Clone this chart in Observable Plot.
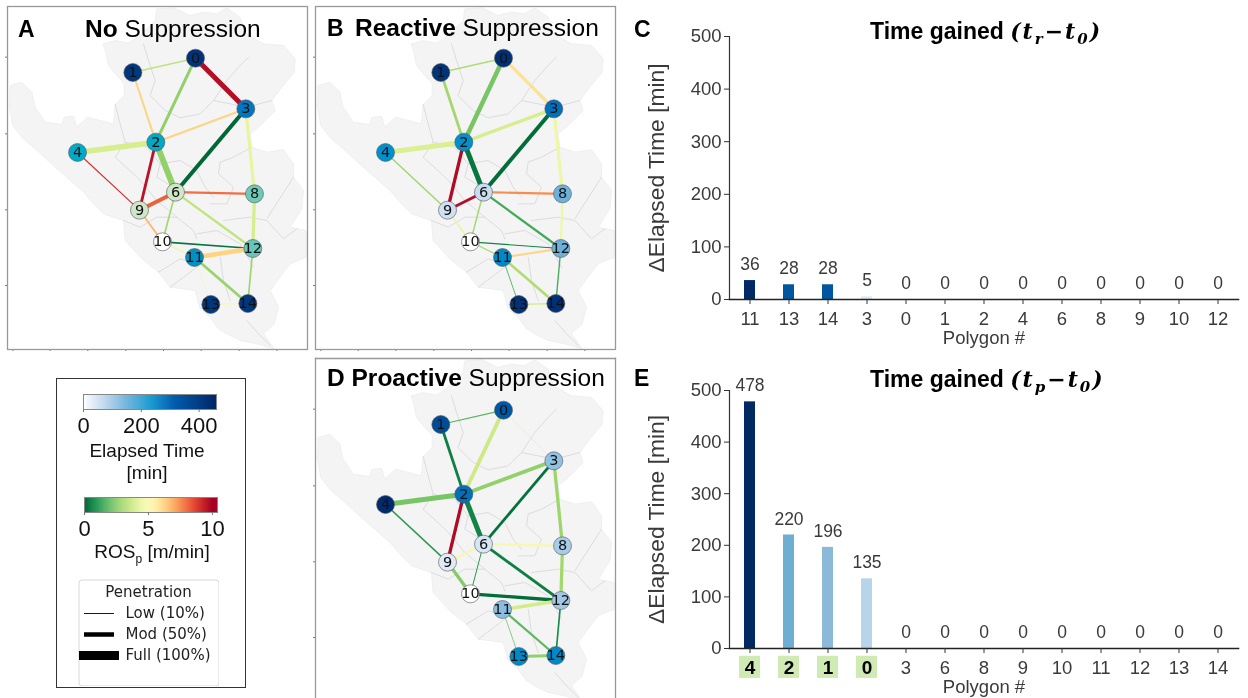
<!DOCTYPE html>
<html><head><meta charset="utf-8">
<script src="https://cdn.jsdelivr.net/npm/d3@7"></script>
<script src="https://cdn.jsdelivr.net/npm/@observablehq/plot@0.6"></script>
<style>
html,body{margin:0;padding:0;background:#fff;}
#page{position:relative;width:1248px;height:698px;overflow:hidden;font-family:"Liberation Sans",Arial,sans-serif;color:#000;filter:blur(0.35px);}
#page>svg,#page>div{position:absolute;}
.ttl{font-size:24.5px;line-height:28px;white-space:nowrap;}
.let{font-size:23px;font-weight:bold;line-height:28px;}
.gain{font-size:23px;font-weight:bold;line-height:28px;white-space:nowrap;}
.gain span{font-family:"DejaVu Serif","Liberation Serif",serif;font-style:italic;font-size:22px;letter-spacing:2px;}
.gain sub{font-size:15px;line-height:0;}
.lg{font-size:19px;line-height:22px;text-align:center;white-space:nowrap;color:#111;}
.lg sub{font-size:12px;line-height:0;}
</style></head><body><div id="page"></div>
<script>
const nodeIds=[0,1,2,3,4,6,8,9,10,11,12,13,14];
const nodeX=[586,398,467,737,232,526,763,418,487,583,758,632,743];
const nodeY=[173,216,425,325,456,575,580,629,724,771,744,912,909];

const edgeFrom=[0,0,0,1,2,2,2,2,3,3,4,6,6,6,6,8,9,10,10,11,11,11,12,13];
const edgeTo=[1,2,3,2,3,4,6,9,6,8,9,8,9,10,12,12,10,11,12,12,13,14,14,14];

const rosA=[3.5,2.7,9.7,6.2,6.2,4.0,2.7,9.6,0.0,4.4,9.0,8.0,8.2,3.0,3.5,4.0,6.8,4.5,0.3,6.2,4.7,2.8,2.9,5.0];
const penA=[15,30,50,20,22,55,60,28,40,33,12,22,40,17,22,33,18,12,17,45,5,28,17,12];
const rosB=[3.2,2.3,5.9,3.0,4.0,4.1,0.3,9.8,0.1,4.6,2.9,7.5,9.7,3.0,1.5,4.6,4.4,3.0,0.6,6.2,1.7,3.2,1.6,4.0];
const penB=[15,45,33,28,33,50,50,33,40,33,14,22,28,15,22,22,15,12,11,20,9,26,14,17];
const rosD=[1.8,3.8,4.3,0.5,2.7,2.3,0.6,9.8,0.2,2.9,1.1,4.9,4.9,1.1,0.5,3.0,2.5,null,0.1,3.9,1.9,1.9,0.8,2.7];
const penD=[12,38,6,28,38,50,50,33,28,33,15,22,22,10,28,33,33,0,33,33,7,22,17,28];

const elapsedA=[430,420,190,270,190,60,130,60,0,230,135,420,420];
const elapsedB=[430,425,235,280,235,60,140,55,0,245,140,425,430];
const elapsedD=[330,360,280,110,445,45,90,35,0,115,95,245,245];

const elapsedStopsA=[0,60,130,190,270,450];
const elapsedColorsA=["#ffffff","#cfe6c8","#6fc9b6","#00a9c6","#0078c0","#002a70"];
const elapsedStops=[0,60,140,235,300,450];
const elapsedColors=["#ffffff","#c9ddf0","#6db0da","#0090cc","#0062b4","#002a6c"];

const ordC=["11","13","14","3","0","1","2","4","6","8","9","10","12"];
const gainC=[36,28,28,5,0,0,0,0,0,0,0,0,0];
const colC=["#002a66","#00569f","#00569f","#dfeaf5","#fff","#fff","#fff","#fff","#fff","#fff","#fff","#fff","#fff"];
const ordE=["4","2","1","0","3","6","8","9","10","11","12","13","14"];
const gainE=[478,220,196,135,0,0,0,0,0,0,0,0,0];
const colE=["#002a60","#6eaed2","#8cb9d8","#b8d4e8","#fff","#fff","#fff","#fff","#fff","#fff","#fff","#fff","#fff"];
const treatedE=["4","2","1","0"];
const yTicks=[0,100,200,300,400,500];

const penLevels=[10,50,100];
const penRows=["Penetration","Low (10%)","Mod (50%)","Full (100%)"];

const frameTicksX=[38,150,263,377,490,603,717,830];
const frameTicksY=[170,400,628,855];

const regionOutline=[[310,130],[345,120],[385,128],[425,100],[465,60],[470,25],[520,22],[570,45],[610,35],[650,40],[680,22],[720,50],[735,100],[790,130],[850,135],[885,175],[882,215],[845,260],[815,300],[825,330],[780,375],[750,400],[755,440],[800,455],[850,448],[880,490],[880,530],[910,570],[905,625],[870,680],[918,690],[918,770],[870,790],[850,815],[810,870],[835,920],[822,970],[790,1000],[822,1045],[770,1030],[720,1020],[680,1000],[655,985],[630,950],[600,925],[585,870],[510,860],[475,815],[425,775],[375,720],[370,660],[310,640],[280,610],[250,575],[205,535],[165,500],[105,445],[65,410],[38,375],[28,320],[30,255],[65,245],[95,275],[105,320],[135,365],[185,372],[192,350],[220,348],[230,380],[262,350],[340,370],[345,312],[372,285],[372,250],[325,195],[318,160]];
const regionLines=[
[[430,130],[445,180],[465,240],[450,285],[495,330],[540,352],[600,340],[640,300],[680,240],[715,200],[745,170]],
[[345,312],[360,370],[375,425],[345,470],[400,520],[425,545],[470,600],[530,650],[580,690],[590,715]],
[[480,490],[540,480],[590,510],[615,560],[640,590]],
[[375,425],[440,440],[480,490],[470,530],[520,560]],
[[660,485],[700,470],[755,440]],
[[660,485],[655,520],[700,560],[680,610],[630,610]],
[[370,660],[420,680],[470,650],[530,650]],
[[670,660],[750,650],[800,660],[850,715],[890,685]],
[[590,700],[650,690],[720,730],[760,800]],
[[475,815],[540,775],[590,790]],
[[660,770],[670,840],[690,900]],
[[740,960],[775,1000],[810,1035]],
[[510,860],[590,800]],
[[800,655],[880,530]],
[[640,300],[740,320],[815,300]]
];

const elapsedColorA=d3.scaleLinear().domain(elapsedStopsA).range(elapsedColorsA).clamp(true);
const elapsedColor=d3.scaleLinear().domain(elapsedStops).range(elapsedColors).clamp(true);
const page=document.getElementById("page");
const mono='"DejaVu Sans",sans-serif';
const sans='"Liberation Sans",Arial,sans-serif';
const narrow=sans;
function place(el,l,t){el.style.left=l+"px";el.style.top=t+"px";el.style.position="absolute";page.appendChild(el);return el;}
function html(cls,l,t,h,extra){const d=document.createElement("div");d.className=cls;d.innerHTML=h;if(extra)Object.assign(d.style,extra);return place(d,l,t);}
const outlineRows=regionOutline.map(p=>({x:p[0],y:p[1]}));
const lineRows=regionLines.flatMap((l,i)=>l.map(p=>({x:p[0],y:p[1],i})));
const nodeIndex=new Map(nodeIds.map((id,i)=>[id,i]));

function mapPanel(ros,pen,elapsed,colorFn,opt){
  const edges=edgeFrom.map((f,i)=>({x1:nodeX[nodeIndex.get(f)],y1:nodeY[nodeIndex.get(f)],x2:nodeX[nodeIndex.get(edgeTo[i])],y2:nodeY[nodeIndex.get(edgeTo[i])],ros:ros[i],pen:pen[i]})).filter(e=>e.pen>0);
  const nodes=nodeIds.map((id,i)=>({id,x:nodeX[i],y:nodeY[i],c:colorFn(elapsed[i])}));
  const fs={stroke:"#999",strokeWidth:1.3};
  const frames=opt.open?[Plot.frame({anchor:"left",...fs}),Plot.frame({anchor:"top",...fs}),Plot.frame({anchor:"right",...fs})]:[Plot.frame(fs)];
  return Plot.plot({
    width:306,height:opt.height,marginLeft:4,marginRight:2,marginTop:2,marginBottom:opt.marginBottom,
    style:{background:"transparent"},
    x:{domain:[22,922],axis:null},
    y:{domain:opt.ydom,axis:null},
    color:{type:"linear",scheme:"RdYlGn",reverse:true,domain:[0,10]},
    marks:[
      ...(opt.open?[]:[Plot.axisX(frameTicksX,{anchor:"bottom",tickSize:2,tickFormat:()=>"",label:null,stroke:"#777"})]),
      Plot.axisY(frameTicksY,{anchor:"left",tickSize:2,tickFormat:()=>"",label:null,stroke:"#777"}),
      Plot.line(outlineRows,{x:"x",y:"y",fill:"#f4f4f5",stroke:"#ececee",strokeWidth:0.8,curve:"linear-closed",clip:true}),
      Plot.line(lineRows,{x:"x",y:"y",z:"i",stroke:"#d6d6d8",strokeWidth:0.8,clip:true}),
      Plot.link(edges,{x1:"x1",y1:"y1",x2:"x2",y2:"y2",stroke:"ros",strokeWidth:d=>d.pen*0.1}),
      Plot.dot(nodes,{x:"x",y:"y",r:9,fill:"c",stroke:"#555",strokeWidth:0.6}),
      Plot.text(nodes,{x:"x",y:"y",text:d=>String(d.id),fontSize:14.5,fontFamily:mono,fill:"#111"}),
      ...frames
    ]
  });
}
place(mapPanel(rosA,penA,elapsedA,elapsedColorA,{height:349,marginBottom:4,ydom:[1047,18]}),3,4);
place(mapPanel(rosB,penB,elapsedB,elapsedColor,{height:349,marginBottom:4,ydom:[1047,18]}),311,4);
place(mapPanel(rosD,penD,elapsedD,elapsedColor,{height:342,marginBottom:0,ydom:[1038,18],open:true}),311,356);

html("let",18,15,"A");
html("ttl",85,15,"<b>No</b> Suppression");
html("let",327,14,"B");
html("ttl",355,14,"<b>Reactive</b> Suppression");
html("ttl",327,364,"<b>D Proactive</b> Suppression");
html("let",634,15,"C");
html("let",634,364,"E");
html("gain",870,17,'Time gained <span>(t<sub>r</sub>−t<sub>0</sub>)</span>');
html("gain",870,365,'Time gained <span>(t<sub>p</sub>−t<sub>0</sub>)</span>');

function barPanel(order,gain,cols,o){
  const rows=order.map((k,i)=>({k,v:gain[i],c:cols[i]}));
  const plain=o.bold?order.filter(k=>!o.bold.includes(k)):order;
  return Plot.plot({
    width:600,height:o.height,marginLeft:89,marginRight:2,marginTop:o.marginTop,marginBottom:o.marginBottom,
    style:{background:"transparent",overflow:"visible"},
    x:{type:"band",domain:order,paddingInner:0.72,paddingOuter:0.37,align:0.5,axis:null},
    y:{domain:[0,500],axis:null},
    marks:[
      ...(o.bold?[Plot.barY(o.bold,{x:d=>d,y1:-15,y2:-58,fill:"#cfeab2",insetLeft:-5,insetRight:-5})]:[]),
      Plot.barY(rows.filter(d=>d.v>0),{x:"k",y:"v",fill:"c"}),
      Plot.text(rows,{x:"k",y:"v",text:d=>String(d.v),dy:-16,fontSize:17.5,fontFamily:narrow,fill:"#3a3a3a"}),
      Plot.frame({anchor:"left",stroke:"#333",strokeWidth:1.2}),
      Plot.frame({anchor:"bottom",stroke:"#222",strokeWidth:1.6}),
      Plot.axisY({ticks:yTicks,anchor:"left",tickSize:5,label:null,fontSize:18.5,fontFamily:narrow,fill:"#3a3a3a",stroke:"#333",tickPadding:3}),
      Plot.axisY({ticks:[],anchor:"left",label:"ΔElapsed Time [min]",labelAnchor:"center",labelArrow:"none",labelOffset:82,fontSize:22.8,fontFamily:sans,fill:"#3a3a3a"}),
      Plot.axisX(plain,{anchor:"bottom",tickSize:5,tickPadding:o.tp,label:null,fontSize:18.5,fontFamily:narrow,fill:"#3a3a3a",stroke:"#333"}),
      ...(o.bold?[Plot.axisX(o.bold,{anchor:"bottom",tickSize:5,tickPadding:o.tp,label:null,fontSize:19,fontWeight:"bold",fontFamily:narrow,fill:"#000",stroke:"#333"})]:[]),
      Plot.axisX({ticks:[],anchor:"bottom",label:"Polygon #",labelAnchor:"center",labelArrow:"none",labelOffset:o.lo,fontSize:18.5,fontFamily:narrow,fill:"#3a3a3a"})
    ]
  });
}
place(barPanel(ordC,gainC,colC,{height:316,marginTop:6,marginBottom:47,tp:7,lo:44}),640,30);
place(barPanel(ordE,gainE,colE,{height:332,marginTop:24,marginBottom:50,tp:7,lo:44,bold:treatedE}),640,366);

/* legend */
html("",56,378,"",{width:188+"px",height:308+"px",border:"1px solid #333"});
function colorbar(domainMax,ticks,colorOpts){
  const step=domainMax/132;
  const cells=d3.range(0,domainMax,step);
  return Plot.plot({
    width:150,height:50,marginLeft:8,marginRight:9,marginTop:2,marginBottom:33,
    style:{background:"transparent",overflow:"visible"},
    x:{domain:[0,domainMax],axis:null},
    y:{axis:null},
    color:colorOpts,
    marks:[
      Plot.rectX(cells,{x1:d=>d,x2:d=>d+step*1.3,fill:d=>d}),
      Plot.frame({stroke:"#888",strokeWidth:1}),
      Plot.axisX(ticks,{anchor:"bottom",tickSize:3,tickPadding:5,label:null,fontSize:22,fontFamily:sans,fill:"#111",stroke:"#777"})
    ]
  });
}
place(colorbar(460,[0,200,400],{type:"linear",domain:elapsedStops,range:elapsedColors}),75,392);
html("lg",87,440,"Elapsed Time<br>[min]",{width:"120px"});
place(colorbar(10.4,[0,5,10],{type:"linear",scheme:"RdYlGn",reverse:true,domain:[0,10]}),76,495);
html("lg",87,541,"ROS<sub>p</sub> [m/min]",{width:"130px"});

const penLegendRows=penRows.map((t,i)=>({t,p:penLevels[i-1]}));
place(Plot.plot({
  width:141,height:107,margin:0,
  style:{background:"transparent"},
  x:{domain:[0,141],axis:null},
  y:{type:"point",domain:penRows,range:[13,76],padding:0,axis:null},
  marks:[
    Plot.frame({stroke:"#d8d8d8",rx:3,inset:0.5}),
    Plot.text(["Penetration"],{x:[70],y:d=>d,fontSize:15,fontFamily:mono,fill:"#222"}),
    Plot.ruleY(penLegendRows.slice(1),{y:"t",x1:d=>21-Math.max(15,d.p/5),x2:d=>21+Math.max(15,d.p/5),stroke:"#000",strokeWidth:d=>d.p*0.09}),
    Plot.text(penRows.slice(1),{x:[47,47,47],y:d=>d,textAnchor:"start",fontSize:15,fontFamily:mono,fill:"#222"})
  ]
}),78,579);
</script>
</body></html>
